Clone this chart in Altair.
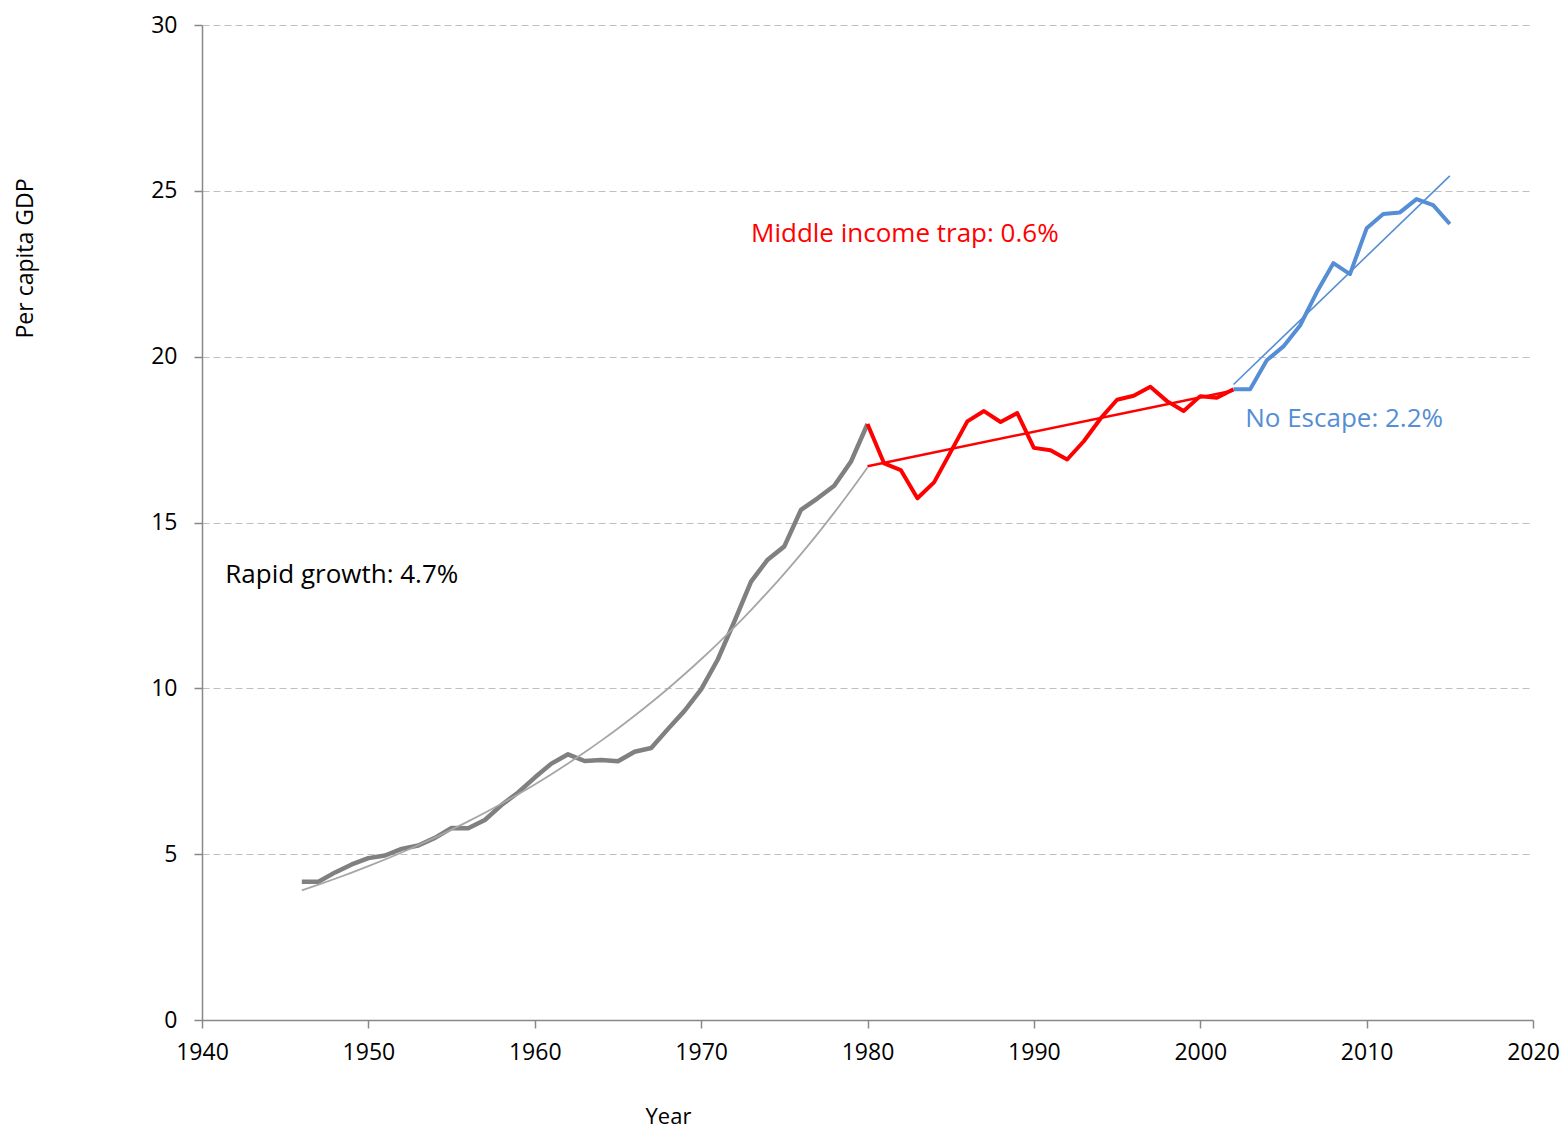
import altair as alt
import pandas as pd

# ---- data ----
gray_years = list(range(1946, 1981))
gray_values = [4.17, 4.17, 4.45, 4.69, 4.88, 4.96, 5.16, 5.26, 5.49, 5.79,
               5.78, 6.03, 6.48, 6.86, 7.31, 7.73, 8.01, 7.81, 7.84, 7.80,
               8.09, 8.20, 8.77, 9.32, 9.97, 10.87, 12.02, 13.22, 13.88, 14.28,
               15.38, 15.73, 16.11, 16.83, 17.97]

red_years = list(range(1980, 2003))
red_values = [17.97, 16.78, 16.58, 15.73, 16.21, 17.13, 18.05, 18.36, 18.03, 18.30,
              17.25, 17.18, 16.90, 17.45, 18.13, 18.70, 18.82, 19.09, 18.66, 18.36,
              18.81, 18.76, 19.02]

blue_years = list(range(2002, 2016))
blue_values = [19.02, 19.02, 19.89, 20.31, 20.94, 21.94, 22.82, 22.49, 23.87, 24.30,
               24.35, 24.75, 24.57, 24.00]

ann_text = ["Rapid growth: 4.7%", "Middle income trap: 0.6%", "No Escape: 2.2%"]
ann_year = [1941.4, 1973.0, 2002.7]
ann_value = [13.41, 23.69, 18.12]
ann_color = ["#000000", "#FF0000", "#558ED5"]

x_ticks = list(range(1940, 2021, 10))
y_ticks = [0, 5, 10, 15, 20, 25, 30]

FONT = "Open Sans"

gray_df = pd.DataFrame({"year": gray_years, "value": gray_values})
red_df = pd.DataFrame({"year": red_years, "value": red_values})
blue_df = pd.DataFrame({"year": blue_years, "value": blue_values})
ann_df = pd.DataFrame({"text": ann_text, "year": ann_year, "value": ann_value, "color": ann_color})

x_enc = alt.X(
    "year:Q",
    scale=alt.Scale(domain=[1940, 2020], nice=False, zero=False),
    axis=alt.Axis(
        title="Year", values=x_ticks, format="d", grid=False, labelFlush=False,
        domainColor="#888888", domainWidth=1.5, tickColor="#888888", tickWidth=1.5,
        tickSize=8, labelPadding=13, labelFontSize=23, labelFont=FONT, labelColor="#000000",
        titleFont=FONT, titleFontSize=22, titleFontWeight="normal", titleColor="#000000",
        titleX=466, titleY=86, titleBaseline="top", titleAlign="center",
    ),
)
y_enc = alt.Y(
    "value:Q",
    scale=alt.Scale(domain=[0, 30], nice=False),
    axis=alt.Axis(
        title="Per capita GDP", values=y_ticks, grid=True, labelFlush=False,
        gridColor="#BFBFBF", gridDash=[7, 4], gridWidth=1,
        domainColor="#888888", domainWidth=1.5, tickColor="#888888", tickWidth=1.5,
        tickSize=8, labelPadding=17, labelFontSize=23, labelFont=FONT, labelColor="#000000",
        titleFont=FONT, titleFontSize=23, titleFontWeight="normal", titleColor="#000000",
        titleAngle=-90, titleX=-177, titleY=233, titleAlign="center", titleBaseline="middle",
    ),
)

gray_line = alt.Chart(gray_df).mark_line(color="#808080", strokeWidth=4.5, strokeJoin="round").encode(x=x_enc, y=y_enc)

# exponential trend: least squares on log values (spreadsheet-style trendline)
gray_trend = alt.Chart(gray_df).transform_calculate(
    logv="log(datum.value)"
).transform_joinaggregate(
    mx="mean(year)", my="mean(logv)"
).transform_calculate(
    dxy="(datum.year - datum.mx) * (datum.logv - datum.my)",
    dxx="(datum.year - datum.mx) * (datum.year - datum.mx)",
).transform_joinaggregate(
    sxy="sum(dxy)", sxx="sum(dxx)"
).transform_calculate(
    trend="exp(datum.my + datum.sxy / datum.sxx * (datum.year - datum.mx))"
).mark_line(color="#A6A6A6", strokeWidth=1.8, interpolate="monotone").encode(x="year:Q", y="trend:Q")

red_line = alt.Chart(red_df).mark_line(color="#FF0000", strokeWidth=4, strokeJoin="round").encode(x="year:Q", y="value:Q")
red_trend = alt.Chart(red_df).mark_line(color="#FF0000", strokeWidth=2.5).transform_regression(
    "year", "value", method="linear").encode(x="year:Q", y="value:Q")

blue_line = alt.Chart(blue_df).mark_line(color="#558ED5", strokeWidth=4, strokeJoin="round").encode(x="year:Q", y="value:Q")
blue_trend = alt.Chart(blue_df).mark_line(color="#558ED5", strokeWidth=1.6).transform_regression(
    "year", "value", method="linear").encode(x="year:Q", y="value:Q")

labels = alt.Chart(ann_df).mark_text(align="left", baseline="middle", font=FONT, fontSize=26).encode(
    x="year:Q", y="value:Q", text="text:N", color=alt.Color("color:N", scale=None))

chart = alt.layer(
    gray_line, gray_trend, red_line, red_trend, blue_line, blue_trend, labels
).properties(
    width=1331, height=995,
    autosize=alt.AutoSizeParams(type="none"),
    padding={"left": 194, "top": 17, "right": 27, "bottom": 113},
).configure_view(stroke=None)

chart.save("out.html", embed_options={"renderer": "svg", "actions": False})
